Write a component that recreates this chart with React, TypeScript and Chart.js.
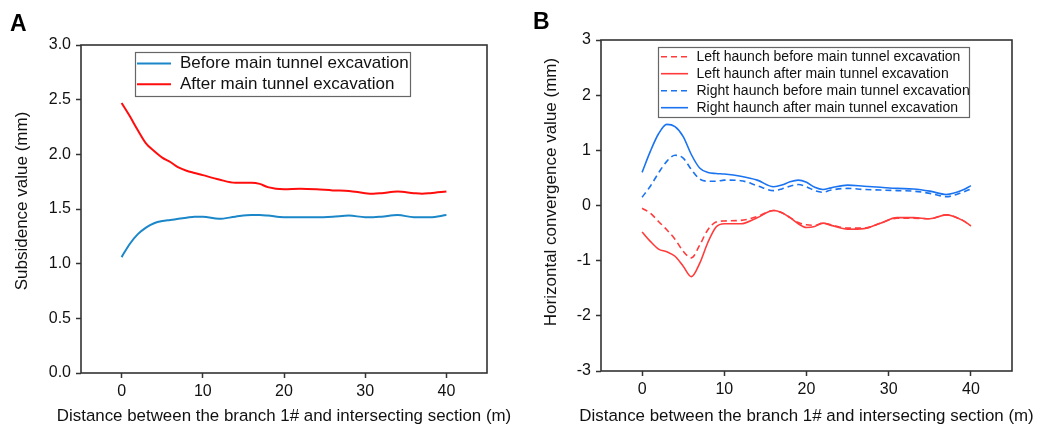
import React, { useEffect, useRef } from "react";
import { Chart, registerables } from "chart.js";

Chart.register(...registerables);

const FONT = '"Liberation Sans", Arial, Helvetica, sans-serif';
Chart.defaults.font.family = FONT;

// ---------- Panel A data ----------
const distanceA = [0, 1, 2, 3, 4, 5, 6, 7, 8, 9, 10, 12, 14, 16, 17, 18, 20, 22, 24, 26, 28, 30, 31, 32, 34, 36, 37, 38, 40];
const subsidenceBefore = [1.06, 1.18, 1.27, 1.33, 1.37, 1.39, 1.40, 1.41, 1.42, 1.43, 1.43, 1.41, 1.43, 1.445, 1.445, 1.44, 1.425, 1.425, 1.425, 1.43, 1.44, 1.425, 1.425, 1.43, 1.445, 1.425, 1.425, 1.425, 1.445];
const subsidenceAfter = [2.47, 2.35, 2.22, 2.10, 2.03, 1.97, 1.93, 1.88, 1.85, 1.83, 1.81, 1.77, 1.74, 1.74, 1.73, 1.70, 1.68, 1.685, 1.68, 1.67, 1.665, 1.645, 1.64, 1.645, 1.66, 1.645, 1.64, 1.645, 1.66];
const seriesNamesA = ["Before main tunnel excavation", "After main tunnel excavation"];
const yTicksA = [0, 0.5, 1, 1.5, 2, 2.5, 3];

// ---------- Panel B data ----------
const distanceB = [0, 1, 2, 3, 4, 5, 6, 7, 8, 9, 10, 12, 14, 16, 17, 18, 19, 20, 21, 22, 23, 25, 27, 29, 31, 33, 35, 37, 39, 40];
const leftBefore = [-0.05, -0.14, -0.29, -0.44, -0.61, -0.83, -0.95, -0.72, -0.44, -0.30, -0.28, -0.27, -0.20, -0.09, -0.13, -0.22, -0.31, -0.35, -0.36, -0.32, -0.35, -0.41, -0.41, -0.32, -0.23, -0.23, -0.24, -0.17, -0.27, -0.37];
const leftAfter = [-0.48, -0.65, -0.79, -0.84, -0.92, -1.10, -1.29, -1.05, -0.67, -0.39, -0.33, -0.33, -0.22, -0.09, -0.13, -0.22, -0.33, -0.40, -0.38, -0.32, -0.36, -0.43, -0.42, -0.32, -0.22, -0.22, -0.24, -0.17, -0.27, -0.37];
const rightBefore = [0.15, 0.35, 0.59, 0.80, 0.91, 0.86, 0.65, 0.48, 0.44, 0.44, 0.46, 0.45, 0.36, 0.27, 0.30, 0.35, 0.38, 0.34, 0.27, 0.24, 0.28, 0.31, 0.29, 0.28, 0.27, 0.26, 0.22, 0.16, 0.24, 0.30];
const rightAfter = [0.60, 0.98, 1.30, 1.47, 1.43, 1.25, 0.92, 0.68, 0.60, 0.58, 0.57, 0.53, 0.46, 0.34, 0.37, 0.43, 0.46, 0.42, 0.33, 0.29, 0.32, 0.37, 0.35, 0.33, 0.31, 0.30, 0.26, 0.20, 0.28, 0.36];
const seriesNamesB = [
  "Left haunch before main tunnel excavation",
  "Left haunch after main tunnel excavation",
  "Right haunch before main tunnel excavation",
  "Right haunch after main tunnel excavation",
];
const yTicksB = [-3, -2, -1, 0, 1, 2, 3];

// ---------- shared ----------
const xTickValues = [0, 10, 20, 30, 40];
const xTitle = "Distance between the branch 1# and intersecting section (m)";
const yTitleA = "Subsidence value (mm)";
const yTitleB = "Horizontal convergence value (mm)";

const toPoints = (xs: number[], ys: number[]) => xs.map((x, i) => ({ x, y: ys[i] }));

const framePlugin = {
  id: "frame",
  afterDraw(chart: any, _args: any, o: any) {
    const { ctx, chartArea: a } = chart;
    ctx.save();
    ctx.strokeStyle = o.color;
    ctx.lineWidth = o.width;
    ctx.strokeRect(a.left, a.top, a.right - a.left, a.bottom - a.top);
    ctx.restore();
  },
};

const boxLegendPlugin = {
  id: "boxLegend",
  afterDraw(chart: any, _args: any, o: any) {
    const ctx = chart.ctx;
    ctx.save();
    ctx.fillStyle = "#ffffff";
    ctx.fillRect(o.x, o.y, o.w, o.h);
    ctx.strokeStyle = o.borderColor;
    ctx.lineWidth = o.borderWidth;
    ctx.strokeRect(o.x, o.y, o.w, o.h);
    chart.data.datasets.forEach((ds: any, i: number) => {
      const cy = o.firstRowY + i * o.rowGap;
      ctx.strokeStyle = ds.borderColor;
      ctx.lineWidth = ds.borderWidth;
      ctx.setLineDash(ds.borderDash || []);
      ctx.beginPath();
      ctx.moveTo(o.sampleX, cy);
      ctx.lineTo(o.sampleX + o.sampleLen, cy);
      ctx.stroke();
      ctx.setLineDash([]);
      ctx.fillStyle = o.textColor;
      ctx.font = `${o.fontSize}px ${FONT}`;
      ctx.textAlign = "left";
      ctx.textBaseline = "middle";
      ctx.fillText(ds.label, o.textX, cy);
    });
    ctx.restore();
  },
};

// Axis titles: x title centred under the plot area, y title rotated at a given offset
const axisTitlePlugin = {
  id: "axisTitles",
  afterDraw(chart: any, _args: any, o: any) {
    const ctx = chart.ctx;
    const a = chart.chartArea;
    ctx.save();
    ctx.fillStyle = o.color;
    ctx.textAlign = "center";
    ctx.textBaseline = "middle";
    ctx.font = `${o.xFontSize}px ${FONT}`;
    ctx.fillText(o.xText, (a.left + a.right) / 2, o.xY);
    ctx.translate(o.yX, (a.top + a.bottom) / 2 + o.yShift);
    ctx.rotate(-Math.PI / 2);
    ctx.font = `${o.yFontSize}px ${FONT}`;
    ctx.fillText(o.yText, 0, 0);
    ctx.restore();
  },
};

function makeScales(yMin: number, yMax: number, yTicks: number[], fmt: (v: number) => string, xHeight: number) {
  return {
    x: {
      type: "linear" as const,
      min: -5,
      max: 45,
      afterBuildTicks: (s: any) => {
        s.ticks = xTickValues.map((v) => ({ value: v }));
      },
      afterFit: (s: any) => {
        s.height = xHeight;
      },
      border: { display: false },
      grid: { drawOnChartArea: false, drawTicks: true, tickLength: 5, tickColor: "#333", tickWidth: 1.5 },
      ticks: { color: "#111", font: { size: 16 }, padding: 4, maxRotation: 0, autoSkip: false },
      title: { display: false },
    },
    y: {
      type: "linear" as const,
      min: yMin,
      max: yMax,
      afterBuildTicks: (s: any) => {
        s.ticks = yTicks.map((v) => ({ value: v }));
      },
      afterFit: (s: any) => {
        s.width = 81;
      },
      border: { display: false },
      grid: { drawOnChartArea: false, drawTicks: true, tickLength: 5, tickColor: "#333", tickWidth: 1.5 },
      ticks: { color: "#111", font: { size: 16 }, padding: 5, autoSkip: false, callback: (v: any) => fmt(Number(v)) },
      title: { display: false },
    },
  };
}

function configA(): any {
  return {
    type: "line",
    data: {
      datasets: [
        { label: seriesNamesA[0], data: toPoints(distanceA, subsidenceBefore), borderColor: "#1b87c9", borderWidth: 2, pointRadius: 0, tension: 0.3, cubicInterpolationMode: "monotone" },
        { label: seriesNamesA[1], data: toPoints(distanceA, subsidenceAfter), borderColor: "#ff0d0d", borderWidth: 2, pointRadius: 0, tension: 0.3, cubicInterpolationMode: "monotone" },
      ],
    },
    options: {
      animation: false,
      responsive: false,
      devicePixelRatio: 1,
      layout: { padding: { left: 0, top: 45, right: 33, bottom: 0 } },
      scales: makeScales(0, 3, yTicksA, (v) => v.toFixed(1), 57),
      plugins: {
        legend: { display: false },
        tooltip: { enabled: false },
        frame: { color: "#333", width: 1.6 },
        boxLegend: { x: 135.5, y: 52.5, w: 275, h: 44, firstRowY: 63.5, rowGap: 20.7, sampleX: 137, sampleLen: 34, textX: 180, fontSize: 17, textColor: "#111", borderColor: "#666", borderWidth: 1.2 },
        axisTitles: { color: "#111", xText: xTitle, xFontSize: 16.9, xY: 416.5, yText: yTitleA, yFontSize: 17, yX: 22, yShift: -8 },
      },
    },
    plugins: [framePlugin, boxLegendPlugin, axisTitlePlugin],
  };
}

function configB(): any {
  const red = "#ff3b3b";
  const blue = "#1a73f0";
  const common = { borderWidth: 1.6, pointRadius: 0, tension: 0.4, cubicInterpolationMode: "monotone" };
  return {
    type: "line",
    data: {
      datasets: [
        { label: seriesNamesB[0], data: toPoints(distanceB, leftBefore), borderColor: red, borderDash: [6, 4], ...common },
        { label: seriesNamesB[1], data: toPoints(distanceB, leftAfter), borderColor: red, ...common },
        { label: seriesNamesB[2], data: toPoints(distanceB, rightBefore), borderColor: blue, borderDash: [6, 4], ...common },
        { label: seriesNamesB[3], data: toPoints(distanceB, rightAfter), borderColor: blue, ...common },
      ],
    },
    options: {
      animation: false,
      responsive: false,
      devicePixelRatio: 1,
      layout: { padding: { left: 0, top: 40, right: 32, bottom: 0 } },
      scales: makeScales(-3, 3, yTicksB, (v) => String(v), 59),
      plugins: {
        legend: { display: false },
        tooltip: { enabled: false },
        frame: { color: "#333", width: 1.6 },
        boxLegend: { x: 138.5, y: 47.5, w: 311, h: 70, firstRowY: 56.7, rowGap: 17, sampleX: 141, sampleLen: 27, textX: 176.5, fontSize: 14, textColor: "#111", borderColor: "#666", borderWidth: 1.2 },
        axisTitles: { color: "#111", xText: xTitle, xFontSize: 16.9, xY: 416.5, yText: yTitleB, yFontSize: 17, yX: 31, yShift: -13.5 },
      },
    },
    plugins: [framePlugin, boxLegendPlugin, axisTitlePlugin],
  };
}

function ChartCanvas({ make, left, width }: { make: () => any; left: number; width: number }) {
  const ref = useRef<HTMLCanvasElement>(null);
  useEffect(() => {
    const chart = new Chart(ref.current as HTMLCanvasElement, make());
    return () => chart.destroy();
  }, []);
  return (
    <canvas
      ref={ref}
      width={width}
      height={430}
      style={{ position: "absolute", left, top: 0, width, height: 430, display: "block" }}
    />
  );
}

export default function App() {
  const labelStyle: React.CSSProperties = {
    position: "absolute",
    fontFamily: FONT,
    fontWeight: "bold",
    fontSize: 23,
    lineHeight: "23px",
    color: "#000",
    zIndex: 2,
  };
  return (
    <div style={{ position: "fixed", left: 0, top: 0, width: 1044, height: 430, background: "#fff", overflow: "hidden" }}>
      <ChartCanvas make={configA} left={0} width={520} />
      <ChartCanvas make={configB} left={520} width={524} />
      <div style={{ ...labelStyle, left: 10, top: 12 }}>A</div>
      <div style={{ ...labelStyle, left: 533, top: 10 }}>B</div>
    </div>
  );
}
